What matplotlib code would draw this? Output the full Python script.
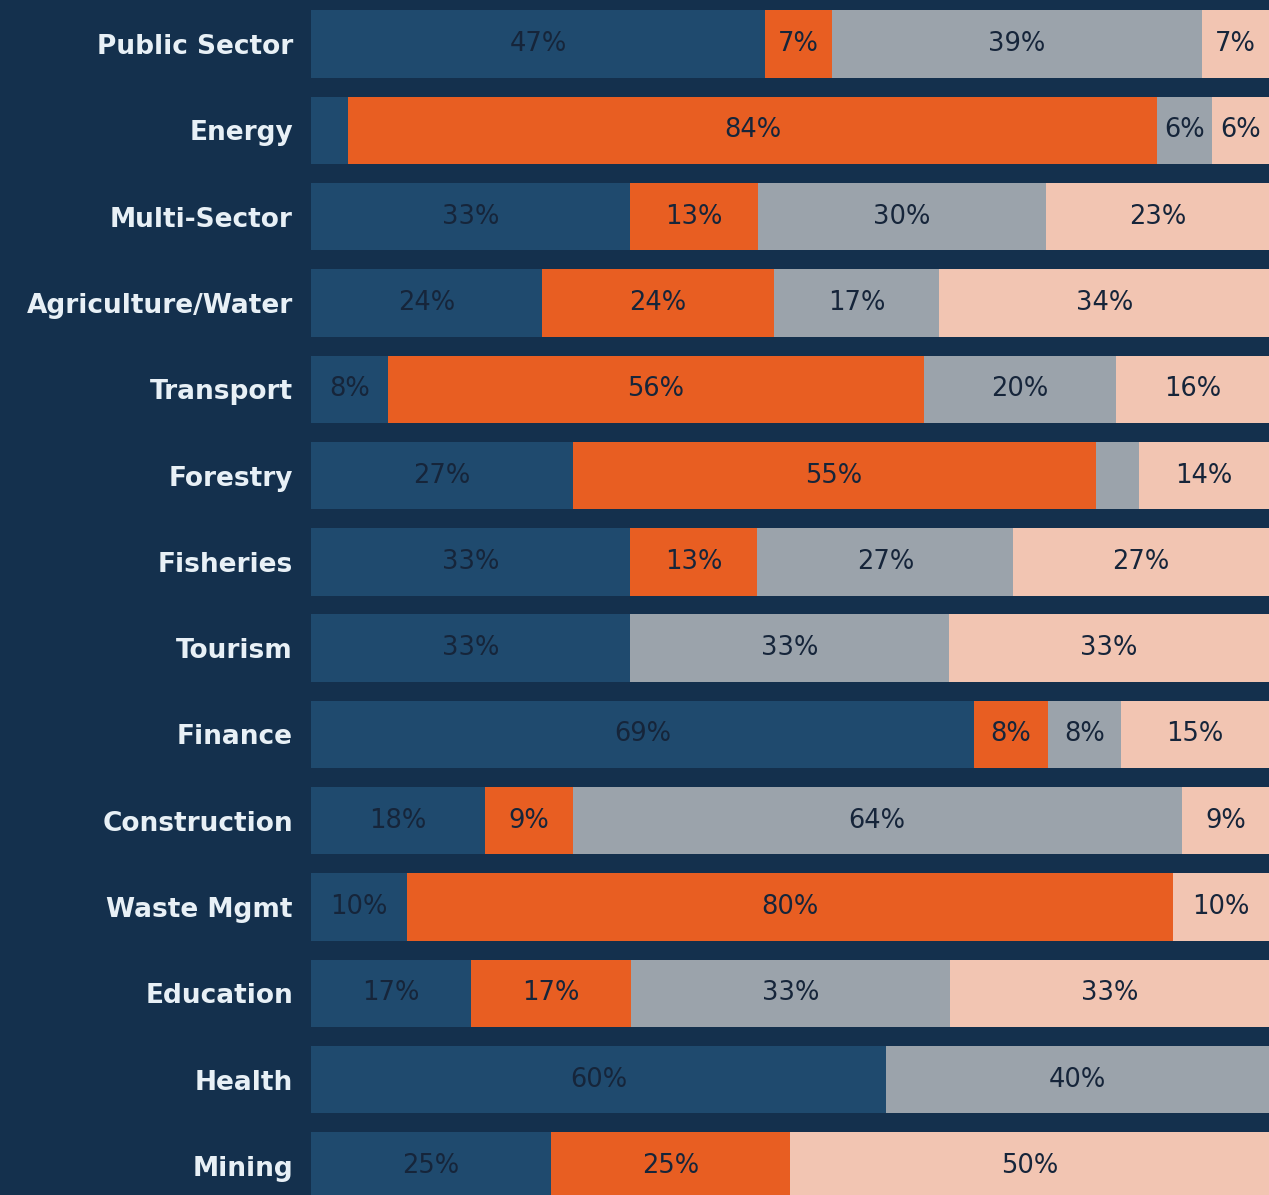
import numpy as np
import matplotlib
matplotlib.use("Agg")
from matplotlib import pyplot as plt

sectors = ["Public Sector", "Energy", "Multi-Sector", "Agriculture/Water", "Transport",
           "Forestry", "Fisheries", "Tourism", "Finance", "Construction", "Waste Mgmt",
           "Education", "Health", "Mining"]

# four share categories per sector (percent)
seg1 = [47.4, 3.9, 33.3, 24.1, 8.0, 27.3, 33.3, 33.3, 69.2, 18.2, 10.0, 16.7, 60.0, 25.0]
seg2 = [7.0, 84.4, 13.4, 24.2, 56.0, 54.6, 13.3, 0.0, 7.7, 9.1, 80.0, 16.7, 0.0, 25.0]
seg3 = [38.6, 5.8, 30.0, 17.3, 20.0, 4.5, 26.7, 33.3, 7.7, 63.6, 0.0, 33.3, 40.0, 0.0]
seg4 = [7.0, 5.9, 23.3, 34.4, 16.0, 13.6, 26.7, 33.4, 15.4, 9.1, 10.0, 33.3, 0.0, 50.0]

colors = ["#1f4a6e", "#e85e22", "#9ba3ab", "#f2c5b2"]
bg = "#14304d"

fig = plt.figure(figsize=(12.69, 11.95), dpi=100, facecolor=bg)
ax = fig.add_axes([311 / 1269, 0, 1 - 311 / 1269, 1])
ax.set_facecolor(bg)

y = np.arange(len(sectors))
left = np.zeros(len(sectors))
for vals, c in zip([seg1, seg2, seg3, seg4], colors):
    vals = np.array(vals)
    ax.barh(y, vals, left=left, height=0.78, color=c, edgecolor="none")
    for yi, l, v in zip(y, left, vals):
        if v >= 5:
            ax.text(l + v / 2, yi, f"{v:.0f}%", ha="center", va="center",
                    fontsize=18.5, color="#16253a", family="DejaVu Sans")
    left += vals

ax.set_xlim(0, 100)
ax.set_ylim(13 + 29 / 86.3, -44 / 86.3)
ax.set_yticks(y)
ax.set_yticklabels(sectors, fontsize=19, fontweight="bold", color="#e8f0f6")
ax.tick_params(axis="y", length=0, pad=13)
ax.set_xticks([])
for s in ax.spines.values():
    s.set_visible(False)

fig.savefig("out.png", dpi=100, facecolor=bg)
